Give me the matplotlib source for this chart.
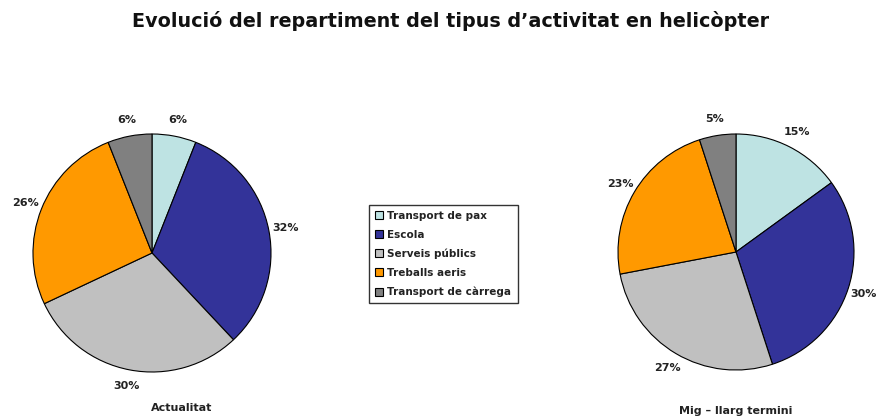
import matplotlib.pyplot as plt
from matplotlib.patches import Patch

categories = ['Transport de pax', 'Escola', 'Serveis públics', 'Treballs aeris', 'Transport de càrrega']
actualitat = [6, 32, 30, 26, 6]
mig_llarg = [15, 30, 27, 23, 5]
colors = ['#BEE3E3', '#333399', '#C0C0C0', '#FF9900', '#808080']

W, H = 885, 418
fig = plt.figure(figsize=(W / 100, H / 100), dpi=100)
fig.patch.set_facecolor('white')


def pie_axes(cx, cy, r):
    # axes square centred on the pie (pixel coords, y from top)
    return fig.add_axes([(cx - r) / W, (H - cy - r) / H, 2 * r / W, 2 * r / H])


def draw_pie(ax, values, subtitle, sub_x, sub_y):
    ax.pie(values, colors=colors, startangle=90, counterclock=False, radius=1,
           labels=[f'{v}%' for v in values], labeldistance=1.14,
           wedgeprops=dict(edgecolor='black', linewidth=0.8),
           textprops=dict(fontsize=8, fontweight='bold', color='#222222',
                          ha='center', va='center'))
    ax.set_xlim(-1, 1)
    ax.set_ylim(-1, 1)
    ax.set_aspect('equal')
    ax.axis('off')
    ax.text(sub_x, sub_y, subtitle, ha='center', va='center', fontsize=8,
            fontweight='bold', color='#222222')


ax1 = pie_axes(152, 253, 119)
draw_pie(ax1, actualitat, 'Actualitat', 0.25, -1.3)

ax2 = pie_axes(736, 252, 118)
draw_pie(ax2, mig_llarg, 'Mig – llarg termini', 0.0, -1.35)

fig.text(451 / W, 1 - 21 / H, 'Evolució del repartiment del tipus d\u2019activitat en helicòpter',
         ha='center', va='center', fontsize=13.8, fontweight='bold', color='#111111')

handles = [Patch(facecolor=c, edgecolor='black', linewidth=0.8) for c in colors]
leg = fig.legend(handles, categories, loc='center', bbox_to_anchor=(443 / W, 1 - 254 / H),
                 frameon=True, fancybox=False, shadow=False, fontsize=7.5,
                 handlelength=0.8, handleheight=0.8, handletextpad=0.4,
                 labelspacing=0.85, borderpad=0.6, borderaxespad=0)
leg.get_frame().set_edgecolor('black')
leg.get_frame().set_linewidth(1.0)
for t in leg.get_texts():
    t.set_fontweight('bold')
    t.set_color('#222222')

fig.savefig('out.png', dpi=100)
